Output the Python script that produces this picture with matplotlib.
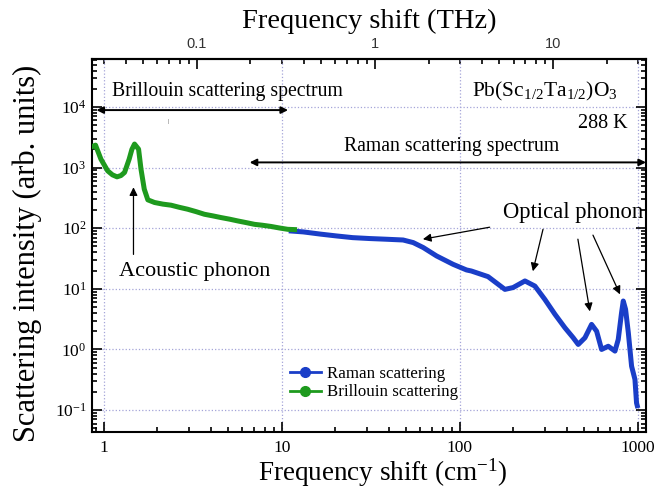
import matplotlib
matplotlib.use('Agg')
import matplotlib.pyplot as plt
from matplotlib.lines import Line2D
from matplotlib.ticker import LogLocator, NullFormatter, FixedLocator, FixedFormatter
import numpy as np

plt.rcParams['font.family'] = ['Liberation Serif', 'DejaVu Serif']
plt.rcParams['mathtext.fontset'] = 'custom'
plt.rcParams['mathtext.rm'] = 'Liberation Serif'
plt.rcParams['mathtext.it'] = 'Liberation Serif:italic'

CM_PER_THZ = 33.356

# Brillouin spectrum (cm^-1, intensity)
brillouin_x = [0.87, 0.90, 0.965, 1.053, 1.12, 1.188, 1.25, 1.31, 1.39, 1.44, 1.49,
               1.57, 1.62, 1.69, 1.77, 1.93, 2.15, 2.39, 2.65, 2.96, 3.3, 3.68,
               4.1, 4.56, 5.1, 5.66, 6.3, 7.03, 7.8, 8.71, 9.7, 10.8, 11.8]
brillouin_y = [2250, 2350, 1380, 885, 760, 705, 740, 833, 1380, 2000, 2450,
               2020, 945, 441, 294, 266, 250, 240, 222, 206, 188, 170,
               160, 150, 141, 132, 124, 116, 112, 107, 101, 96, 95]

# Raman spectrum (cm^-1, intensity)
raman_x = [11.3, 13.2, 16.5, 20.3, 25.0, 31.2, 38.0, 48.0, 54.7, 62.3, 74.0,
           91.6, 109, 116, 144, 179, 199, 232, 264, 300, 342, 389, 433, 462,
           504, 549, 586, 625, 681, 743, 775, 809, 827, 852, 883, 921, 962,
           982, 991]
raman_y = [90, 87, 80, 74.6, 70, 67.6, 66, 64, 58, 48, 34.9,
           25.4, 20.5, 19.7, 15.9, 9.8, 10.5, 13.5, 11.1, 6.7, 3.8, 2.28, 1.56, 1.21,
           1.56, 2.59, 2.0, 1.0, 1.13, 0.94, 1.46, 4.04, 6.3, 4.6, 1.89, 0.53, 0.32,
           0.131, 0.118]

raman_color = '#1a3ec8'
brillouin_color = '#1e9a1e'
grid_color = '#a4a4d8'

fig = plt.figure(figsize=(6.54, 4.88), dpi=100)
ax = fig.add_axes([0.1407, 0.1148, 0.8471, 0.7643])

ax.plot(raman_x, raman_y, color=raman_color, lw=3.6, solid_joinstyle='round', zorder=3)
ax.plot(brillouin_x, brillouin_y, color=brillouin_color, lw=3.6, solid_joinstyle='round', zorder=4)

ax.set_xscale('log')
ax.set_yscale('log')
ax.set_xlim(0.86, 1110)
ax.set_ylim(0.0435, 6.2e4)

# ticks and grid
ax.xaxis.set_major_locator(FixedLocator([1, 10, 100, 1000]))
ax.xaxis.set_major_formatter(FixedFormatter(['1', '10', '100', '1000']))
ax.xaxis.set_minor_locator(LogLocator(base=10, subs=np.arange(2, 10)))
ax.xaxis.set_minor_formatter(NullFormatter())
ax.yaxis.set_major_locator(FixedLocator([0.1, 1, 10, 100, 1000, 10000]))
ax.yaxis.set_major_formatter(FixedFormatter(['$10^{-1}$', '$10^{0}$', '$10^{1}$',
                                             '$10^{2}$', '$10^{3}$', '$10^{4}$']))
ax.yaxis.set_minor_locator(LogLocator(base=10, subs=np.arange(2, 10)))
ax.yaxis.set_minor_formatter(NullFormatter())
ax.tick_params(which='both', direction='in', bottom=True, left=True, right=True, top=False,
               width=1.2)
ax.tick_params(which='major', length=7, labelsize=12.5)
ax.tick_params(axis='x', which='major', pad=5.5)
ax.tick_params(axis='y', which='major', pad=4)
ax.tick_params(which='minor', length=3.5)
ax.grid(True, which='major', color=grid_color, ls=':', lw=0.9)
for sp in ax.spines.values():
    sp.set_linewidth(1.5)

ax.set_xlabel('Frequency shift (cm$^{-1}$)', fontsize=19.5, va='center')
ax.xaxis.set_label_coords(0.525, -0.108)
ax.set_ylabel('Scattering intensity (arb. units)', fontsize=22, va='center')
ax.yaxis.set_label_coords(-0.117, 0.48)

# THz axis on top
top = ax.secondary_xaxis('top', functions=(lambda x: x / CM_PER_THZ, lambda t: t * CM_PER_THZ))
top.xaxis.set_major_locator(FixedLocator([0.1, 1, 10]))
top.xaxis.set_major_formatter(FixedFormatter(['0.1', '1', '10']))
top.xaxis.set_minor_locator(LogLocator(base=10, subs=np.arange(2, 10)))
top.xaxis.set_minor_formatter(NullFormatter())
top.tick_params(which='both', direction='in', width=1.2)
top.tick_params(which='major', length=7, labelsize=10.5, pad=6, labelcolor='#333333')
top.tick_params(which='minor', length=3.5)
for lbl in top.get_xticklabels():
    lbl.set_family(['Liberation Sans', 'DejaVu Sans'])
top.set_xlabel('Frequency shift (THz)', fontsize=20.5, labelpad=6)
top.spines['top'].set_linewidth(1.5)

# spectrum ranges
ax.annotate('', xy=(0.91, 8900), xytext=(10.85, 8900),
            arrowprops=dict(arrowstyle='<|-|>', color='black', lw=1.4,
                            mutation_scale=10, shrinkA=0, shrinkB=0))
ax.text(4.97, 17700, 'Brillouin scattering spectrum', fontsize=14.2,
        ha='center', va='center')
ax.text(2.29, 5870, '|', fontsize=5, ha='center', va='center', color='#444444')
ax.annotate('', xy=(6.6, 1220), xytext=(1110, 1220),
            arrowprops=dict(arrowstyle='<|-|>', color='black', lw=1.4,
                            mutation_scale=10, shrinkA=0, shrinkB=0))
ax.text(90, 2265, 'Raman scattering spectrum', fontsize=14.2,
        ha='center', va='center')

ax.text(0.949, 0.912, 'Pb(Sc$_{1/2}$Ta$_{1/2}$)O$_3$', transform=ax.transAxes,
        fontsize=15.5, ha='right', va='center')
ax.text(0.9675, 0.828, '288 K', transform=ax.transAxes,
        fontsize=14.5, ha='right', va='center')

# phonon labels
arrow_kw = dict(arrowstyle='-|>', color='black', lw=0.9, mutation_scale=12,
                shrinkA=0, shrinkB=0)
ax.annotate('', xy=(1.47, 474), xytext=(1.47, 37), arrowprops=arrow_kw)
ax.text(3.24, 19.5, 'Acoustic phonon', fontsize=16, ha='center', va='center')

ax.text(431, 184, 'Optical phonon', fontsize=16.3, ha='center', va='center')
optical_tails = [(147, 104), (293, 96), (460, 66), (559, 77)]
optical_heads = [(62, 66), (257, 19.5), (537, 4.25), (793, 8.1)]
for tail, head in zip(optical_tails, optical_heads):
    ax.annotate('', xy=head, xytext=tail, arrowprops=arrow_kw)

handles = [Line2D([], [], color=raman_color, lw=2, marker='o', markersize=7),
           Line2D([], [], color=brillouin_color, lw=2, marker='o', markersize=7)]
ax.legend(handles, ['Raman scattering', 'Brillouin scattering'],
          loc='upper left', bbox_to_anchor=(0.33, 0.218), frameon=False,
          fontsize=12.2, handlelength=1.8, handletextpad=0.4, labelspacing=0.15)

fig.savefig('out.png', dpi=100)
